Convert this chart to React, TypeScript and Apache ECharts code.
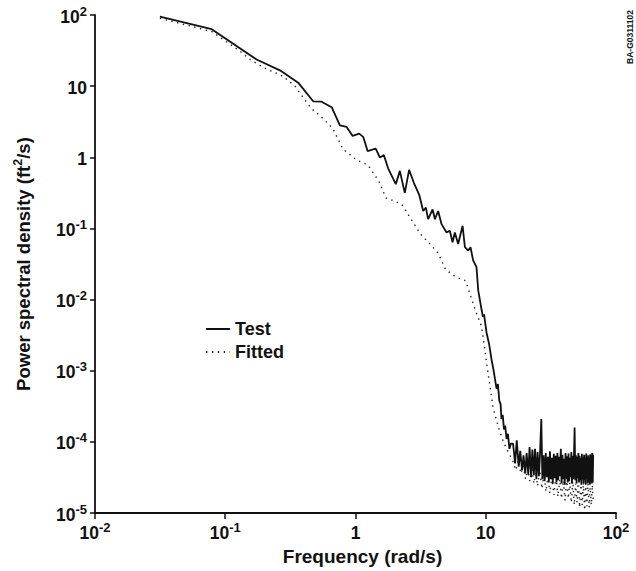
import React, { useEffect, useRef } from "react";
import * as echarts from "echarts";

// ---- data (frequency in rad/s, PSD in ft^2/s) ----
const testFreq = [
  0.0315, 0.0787, 0.174, 0.263, 0.363, 0.473, 0.549, 0.656, 0.759, 0.855, 0.951, 1.067, 1.146,
  1.24, 1.43, 1.54, 1.65, 1.78, 2.04, 2.19, 2.39, 2.58, 2.81, 3.08, 3.31, 3.47, 3.61, 3.91, 4.07,
  4.31, 4.58, 5.0, 5.3, 5.56, 5.79, 6.14, 6.64, 6.92, 7.33, 7.64, 8.0, 8.49, 8.75, 9.29, 9.5, 9.7,
  10.15, 10.6, 11.07, 11.5, 12.1, 12.4, 12.7, 13.0, 13.2, 13.5, 13.8, 14.1, 14.45, 14.8, 15.2, 15.6,
  16.2, 16.8, 17.3, 17.9, 18.4, 19.0, 19.5, 20.1, 20.6, 21.2, 21.7, 22.3, 22.8, 23.4, 23.9, 24.5,
  25.0, 25.6, 26.1, 26.7, 27.2, 27.8, 28.3, 28.9, 29.4, 30.0, 30.5, 31.1, 31.6, 32.2, 32.7, 33.3,
  33.8, 34.4, 34.9, 35.5, 36.0, 36.6, 37.1, 37.7, 38.2, 38.8, 39.3, 39.9, 40.4, 41.0, 41.5, 42.1,
  42.6, 43.2, 43.7, 44.3, 44.8, 45.4, 45.9, 46.5, 47.0, 47.6, 48.1, 48.7, 49.2, 49.8, 50.3, 50.9,
  51.4, 52.0, 52.5, 53.1, 53.6, 54.2, 54.7, 55.3, 55.8, 56.4, 56.9, 57.5, 58.0, 58.6, 59.1, 59.7,
  60.2, 60.8, 61.3, 61.9, 62.4, 63.0, 63.5, 64.1, 64.6, 65.2, 65.7, 66.3, 66.8,
];
const testPsd = [
  94.6, 63.3, 23.7, 16.7, 11.2, 6.13, 6.05, 5.06, 2.81, 2.67, 2.0, 2.15, 1.94,
  1.22, 1.33, 0.99, 1.08, 0.7, 0.42, 0.645, 0.316, 0.667, 0.435, 0.3, 0.176, 0.196, 0.135, 0.185, 0.135,
  0.176, 0.115, 0.088, 0.093, 0.064, 0.088, 0.0605, 0.109, 0.0545, 0.049, 0.0545, 0.0356, 0.0287, 0.0136, 0.0072, 0.0058, 0.0062,
  0.0034, 0.0024, 0.00145, 0.001, 5.6e-4, 6.5e-4, 3.8e-4, 3.4e-4, 2.1e-4, 2.4e-4, 1.5e-4, 1.7e-4, 1.1e-4, 1.3e-4, 8e-5, 9.5e-5,
  9.5e-5, 5.0e-5, 10.5e-5, 4.5e-5, 7.5e-5, 4.0e-5, 6.5e-5, 3.6e-5, 7.0e-5, 3.5e-5, 8.5e-5, 3.2e-5, 7.8e-5, 3.4e-5, 8.0e-5, 3.0e-5,
  7.2e-5, 3.3e-5, 6.8e-5, 21e-5, 3.0e-5, 6.5e-5, 2.8e-5, 7.0e-5, 3.2e-5, 6.2e-5, 2.7e-5, 7.4e-5, 3.0e-5, 6.0e-5, 2.6e-5, 6.8e-5,
  3.1e-5, 6.4e-5, 2.7e-5, 7.0e-5, 2.9e-5, 6.2e-5, 3.3e-5, 8.0e-5, 2.6e-5, 6.6e-5, 3.0e-5, 5.8e-5, 2.5e-5, 7.0e-5, 3.1e-5, 6.3e-5,
  2.7e-5, 6.9e-5, 2.8e-5, 6.0e-5, 3.2e-5, 7.2e-5, 2.6e-5, 6.4e-5, 3.0e-5, 6.7e-5, 16e-5, 2.9e-5, 6.5e-5, 2.6e-5, 6.2e-5, 3.1e-5,
  7.0e-5, 2.7e-5, 6.4e-5, 2.9e-5, 5.9e-5, 2.5e-5, 6.8e-5, 3.0e-5, 6.1e-5, 2.6e-5, 6.6e-5, 2.9e-5, 6.0e-5, 2.5e-5, 6.9e-5, 3.0e-5,
  6.2e-5, 2.6e-5, 6.5e-5, 2.8e-5, 5.9e-5, 2.5e-5, 6.7e-5, 2.9e-5, 6.3e-5, 2.6e-5, 7.0e-5, 2.7e-5, 6.6e-5,
];

const fittedFreq = [
  0.0315, 0.0787, 0.13, 0.155, 0.195, 0.277, 0.343, 0.394, 0.46, 0.533, 0.671, 0.8, 1.02, 1.245,
  1.51, 1.71, 2.26, 3.16, 3.88, 4.31, 4.92, 5.87, 7.0, 7.55, 8.39, 9.29, 10.4, 11.4, 12.8, 14.0,
  16.2, 17.0, 17.8, 18.6, 19.4, 20.2, 21.0, 21.8, 22.6, 23.4, 24.2, 25.0, 26.0, 27.0, 28.0, 29.0,
  30.0, 31.0, 32.2, 33.4, 34.6, 35.8, 37.0, 38.2, 39.4, 40.6, 41.8, 43.0, 44.2, 45.4, 46.6, 47.8,
  49.0, 50.2, 51.4, 52.6, 53.8, 55.0, 56.2, 57.4, 58.6, 59.8, 61.0, 62.2, 63.4, 64.6, 65.8, 66.8,
];
const fittedPsd = [
  90, 58.6, 30.9, 23.7, 18.4, 13.8, 10, 7.03, 4.8, 3.87, 2.53, 1.31, 0.917, 0.78,
  0.464, 0.27, 0.22, 0.083, 0.056, 0.045, 0.0264, 0.0209, 0.0184, 0.0122, 0.0068, 0.0042, 9.5e-4, 2.97e-4, 1.39e-4, 9.1e-5,
  5.3e-5, 4.0e-5, 5.5e-5, 3.6e-5, 4.6e-5, 3.0e-5, 4.2e-5, 2.8e-5, 4.4e-5, 2.6e-5, 3.8e-5, 2.4e-5, 4.0e-5, 2.2e-5, 3.6e-5, 2.0e-5,
  3.4e-5, 1.9e-5, 3.2e-5, 1.8e-5, 3.5e-5, 1.7e-5, 3.0e-5, 1.6e-5, 2.9e-5, 1.5e-5, 3.1e-5, 1.6e-5, 2.7e-5, 1.4e-5, 2.8e-5, 1.3e-5,
  2.6e-5, 1.4e-5, 2.9e-5, 1.2e-5, 2.5e-5, 1.3e-5, 2.7e-5, 1.1e-5, 2.4e-5, 1.25e-5, 2.6e-5, 1.2e-5, 2.3e-5, 1.3e-5, 2.5e-5, 1.5e-5,
];

const seriesNames = ["Test", "Fitted"];
const xAxisTitle = "Frequency (rad/s)";
const yAxisTitleParts = ["Power spectral density (ft", "2", "/s)"];
const stampText = "BA-G0311102";

const FONT = "'Liberation Sans', Arial, Helvetica, sans-serif";
const INK = "#111";

function decadeLabel(v: number): string {
  const e = Math.round(Math.log10(v));
  if (e === 0) return "{b|1}";
  if (e === 1) return "{b|10}";
  return `{b|10}{s|${e}}`;
}

const tickRich = {
  b: { fontSize: 17.5, fontWeight: "bold", fontFamily: FONT, color: INK, padding: [3, 0, 0, 0], verticalAlign: "bottom" },
  s: { fontSize: 13, fontWeight: "bold", fontFamily: FONT, color: INK, verticalAlign: "top" },
};

export default function App() {
  const ref = useRef<HTMLDivElement>(null);
  useEffect(() => {
    if (!ref.current) return;
    const chart = echarts.init(ref.current, undefined, { renderer: "svg" });
    const testData = testFreq.map((f, i) => [f, testPsd[i]]);
    const fittedData = fittedFreq.map((f, i) => [f, fittedPsd[i]]);
    chart.setOption({
      animation: false,
      backgroundColor: "#fff",
      grid: { left: 95, right: 20, top: 15, bottom: 52, containLabel: false },
      legend: {
        data: seriesNames,
        orient: "vertical",
        left: 205,
        top: 320,
        padding: 0,
        itemWidth: 24,
        itemHeight: 12,
        itemGap: 5,
        itemStyle: { opacity: 0 },
        textStyle: { fontSize: 18, fontWeight: "bold", fontFamily: FONT, color: INK },
      },
      xAxis: {
        type: "log",
        logBase: 10,
        min: 0.01,
        max: 100,
        name: xAxisTitle,
        nameLocation: "middle",
        nameGap: 29,
        nameTextStyle: { fontSize: 19, fontWeight: "bold", fontFamily: FONT, color: INK, padding: [0, 0, 0, 14] },
        axisLine: { show: true, lineStyle: { color: INK, width: 1.8 } },
        axisTick: { show: true, length: 6, lineStyle: { color: INK, width: 1.5 } },
        minorTick: { show: false },
        splitLine: { show: false },
        axisLabel: { margin: 8, formatter: decadeLabel, rich: tickRich },
      },
      yAxis: {
        type: "log",
        logBase: 10,
        min: 1e-5,
        max: 100,
        name: `{a|${yAxisTitleParts[0]}}{s|${yAxisTitleParts[1]}}{a|${yAxisTitleParts[2]}}`,
        nameLocation: "middle",
        nameGap: 62,
        nameTextStyle: {
          rich: {
            a: { fontSize: 18.5, fontWeight: "bold", fontFamily: FONT, color: INK, padding: [3, 0, 0, 0], verticalAlign: "bottom" },
            s: { fontSize: 12.5, fontWeight: "bold", fontFamily: FONT, color: INK, verticalAlign: "top" },
          },
        },
        axisLine: { show: true, lineStyle: { color: INK, width: 1.8 } },
        axisTick: { show: true, length: 5, lineStyle: { color: INK, width: 1.5 } },
        minorTick: { show: false },
        splitLine: { show: false },
        axisLabel: { margin: 8, formatter: decadeLabel, rich: tickRich },
      },
      series: [
        {
          name: seriesNames[0],
          type: "line",
          data: testData,
          showSymbol: false,
          symbol: "none",
          lineStyle: { color: INK, width: 1.8 },
          itemStyle: { color: INK },
          z: 3,
        },
        {
          name: seriesNames[1],
          type: "line",
          data: fittedData,
          showSymbol: false,
          symbol: "none",
          lineStyle: { color: "#222", width: 1.4, type: [1.4, 4.5] },
          itemStyle: { color: "#222" },
          z: 2,
        },
      ],
      graphic: [
        {
          type: "text",
          x: 630,
          y: 37,
          rotation: Math.PI / 2,
          style: {
            text: stampText,
            fontSize: 8.5,
            fontWeight: "bold",
            fontFamily: FONT,
            fill: INK,
            align: "center",
            verticalAlign: "middle",
          },
        },
      ],
    });
    return () => chart.dispose();
  }, []);
  return (
    <div
      ref={ref}
      style={{ position: "fixed", left: 0, top: 0, width: 636, height: 571, background: "#fff" }}
    />
  );
}
